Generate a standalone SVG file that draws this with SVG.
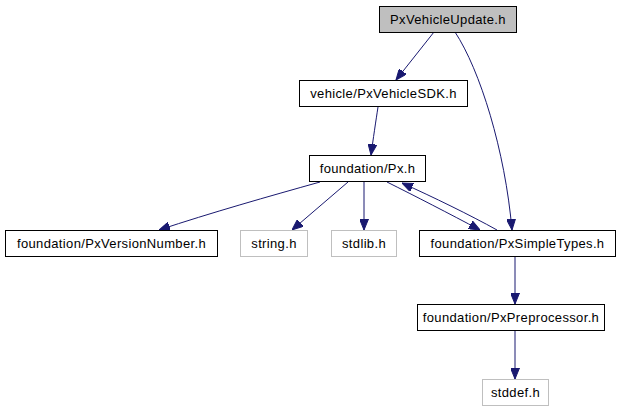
<svg xmlns="http://www.w3.org/2000/svg" width="620" height="411" viewBox="0 0 620 411">
<style>
.n rect{fill:#fff;stroke:#000;stroke-width:1}
.n.g rect{stroke:#bfbfbf}
.n.cur rect{fill:#bfbfbf}
.n text{font-family:"Liberation Sans",Arial,sans-serif;font-size:13px;letter-spacing:0.35px;text-anchor:middle;fill:#000}
.e path{fill:none;stroke:#191970;stroke-width:1}
</style>
<defs>
<marker id="ah" viewBox="0 0 11 9" markerWidth="11" markerHeight="9" refX="11" refY="4.5" orient="auto" markerUnits="userSpaceOnUse">
<path d="M0,0 L11,4.5 L0,9 z" fill="#191970" stroke="#191970"/>
</marker>
</defs>
<rect width="620" height="411" fill="#fff"/>
<g id="edges" class="e">
<path d="M434,32 L396,80" marker-end="url(#ah)"/>
<path d="M455,32 C480,70 505,150 512,230" marker-end="url(#ah)"/>
<path d="M378,107 C376,120 373,140 371,155" marker-end="url(#ah)"/>
<path d="M320,182 C270,196 210,213 159,230" marker-end="url(#ah)"/>
<path d="M348,182 L292,230" marker-end="url(#ah)"/>
<path d="M364,182 L364,230" marker-end="url(#ah)"/>
<path d="M387,182 C415,196 450,214 480,230" marker-end="url(#ah)"/>
<path d="M497,230 C470,215 433,197 402,183" marker-end="url(#ah)"/>
<path d="M515,256 L515,304" marker-end="url(#ah)"/>
<path d="M515,331 L515,379" marker-end="url(#ah)"/>
</g>
<g id="PxVehicleUpdate" class="n cur"><rect x="379.5" y="6.5" width="137" height="26"/><text x="448" y="24">PxVehicleUpdate.h</text></g>
<g id="PxVehicleSDK" class="n"><rect x="299.5" y="80.5" width="168" height="26"/><text x="383.5" y="98">vehicle/PxVehicleSDK.h</text></g>
<g id="Px" class="n"><rect x="309.5" y="155.5" width="116" height="26"/><text x="367.5" y="173">foundation/Px.h</text></g>
<g id="PxVersionNumber" class="n"><rect x="5.5" y="230.5" width="212" height="26"/><text x="111.5" y="248">foundation/PxVersionNumber.h</text></g>
<g id="string" class="n g"><rect x="240.5" y="230.5" width="67" height="26"/><text x="274" y="248">string.h</text></g>
<g id="stdlib" class="n g"><rect x="331.5" y="230.5" width="65" height="26"/><text x="364" y="248">stdlib.h</text></g>
<g id="PxSimpleTypes" class="n"><rect x="419.5" y="230.5" width="196" height="26"/><text x="517.5" y="248">foundation/PxSimpleTypes.h</text></g>
<g id="PxPreprocessor" class="n"><rect x="417.5" y="304.5" width="187" height="26"/><text x="511" y="322">foundation/PxPreprocessor.h</text></g>
<g id="stddef" class="n g"><rect x="482.5" y="379.5" width="66" height="26"/><text x="515.5" y="397">stddef.h</text></g>
</svg>
